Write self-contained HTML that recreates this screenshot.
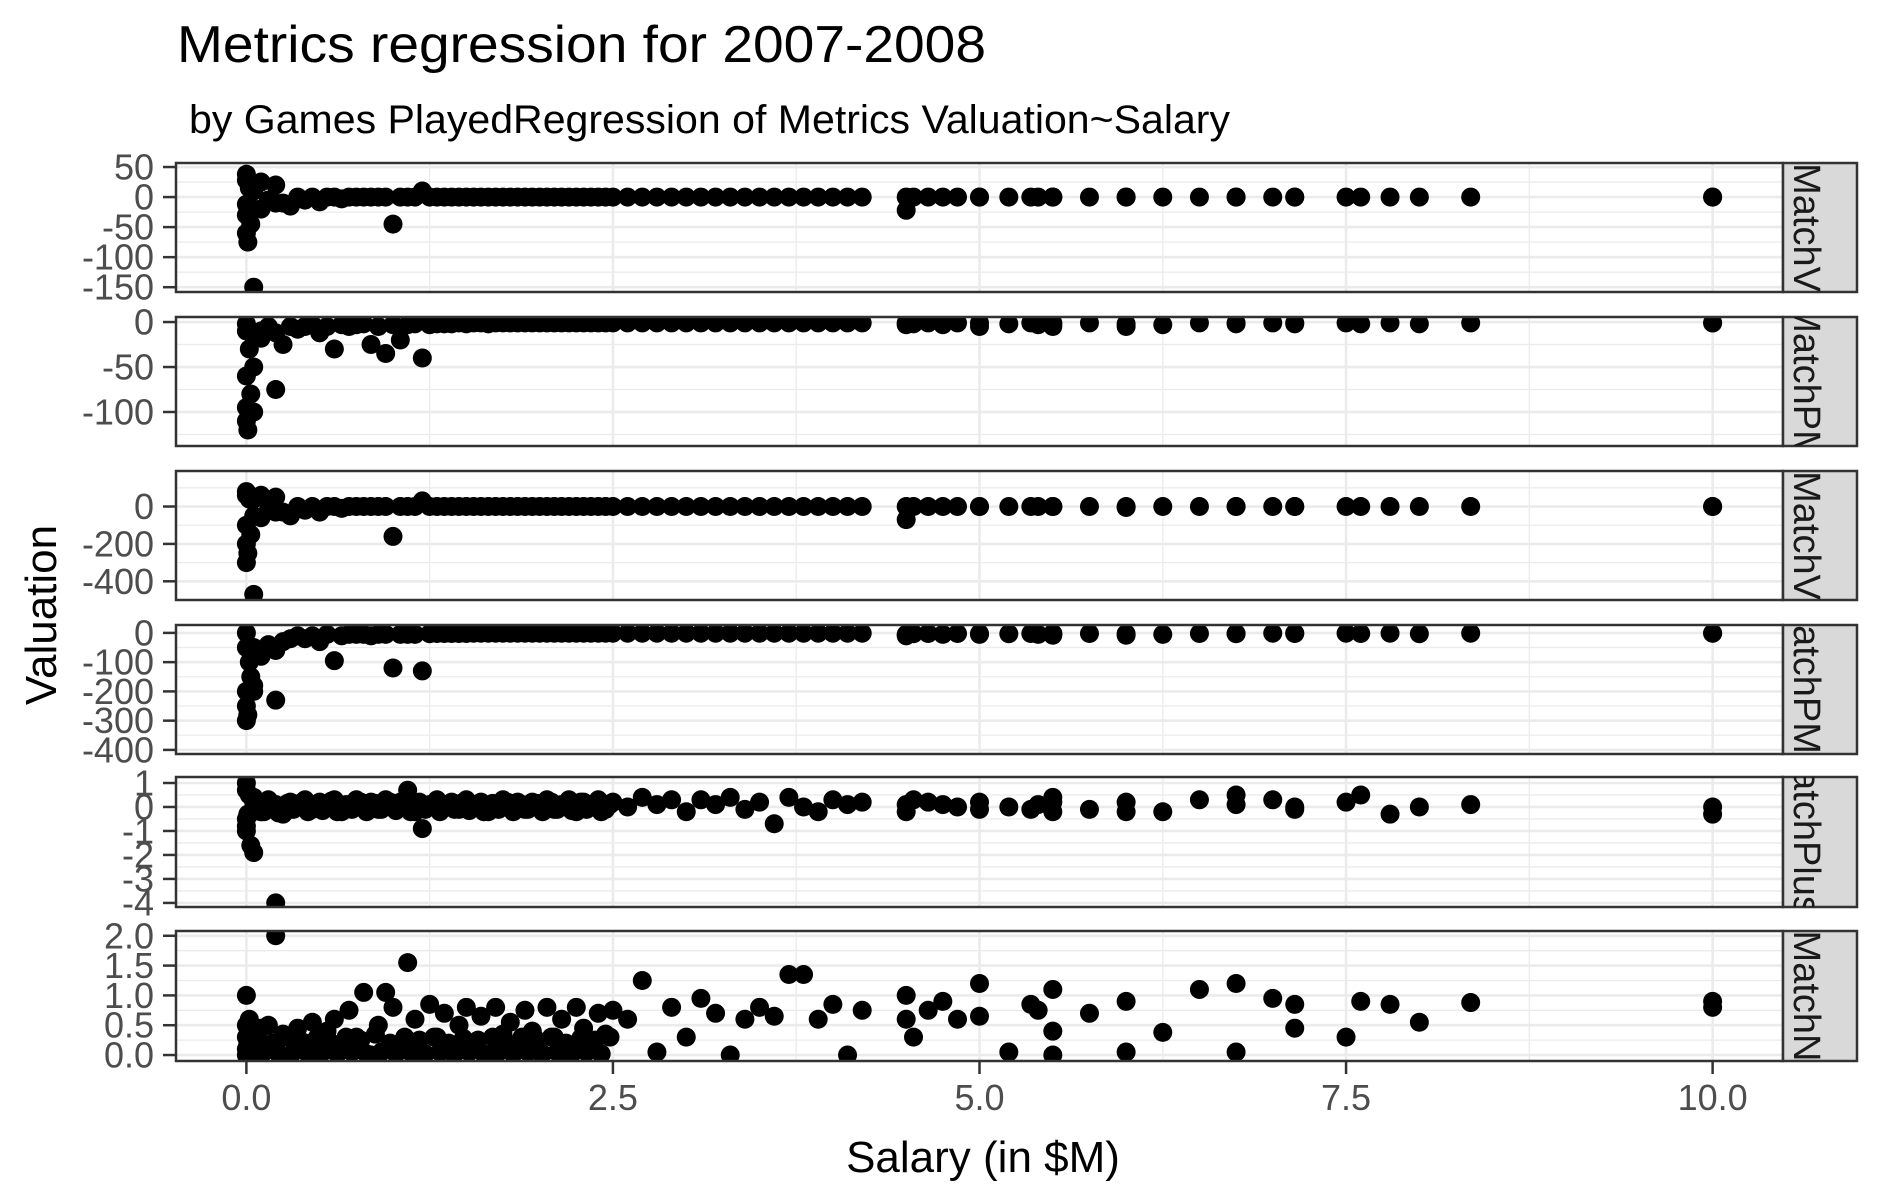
<!DOCTYPE html>
<html><head><meta charset="utf-8"><style>
html,body{margin:0;padding:0;background:#fff}
svg{display:block;font-family:"Liberation Sans",sans-serif}
</style></head><body>
<svg id="chart" width="1881" height="1200" viewBox="0 0 1881 1200">
<text x="177" y="62" font-size="52" textLength="809" lengthAdjust="spacingAndGlyphs">Metrics regression for 2007-2008</text>
<text x="189" y="133" font-size="40" textLength="1041" lengthAdjust="spacingAndGlyphs">by Games PlayedRegression of Metrics Valuation~Salary</text>
<text transform="translate(56,615) rotate(-90)" text-anchor="middle" font-size="44">Valuation</text>
<text x="983" y="1172" text-anchor="middle" font-size="44">Salary (in $M)</text>
<g id="panels"></g>
</svg>
<script>
const salaryNearZero=[0,0,0,0,0,0.01,0.02,0.03,0.05,0.05,0.1,0.2];
const salaryDense=[0.05,0.1,0.15,0.2,0.25,0.3,0.35,0.4,0.45,0.5,0.55,0.6,0.65,0.7,0.75,0.8,0.85,0.9,0.95,1.0,1.05,1.1,1.15,1.2,1.25,1.3,1.35,1.4,1.45,1.5,1.55,1.6,1.65,1.7,1.75,1.8,1.85,1.9,1.95,2.0,2.05,2.1,2.15,2.2,2.25,2.3,2.35,2.4,2.45,2.5,2.6,2.7,2.8,2.9,3.0,3.1,3.2,3.3,3.4,3.5,3.6,3.7,3.8,3.9,4.0,4.1,4.2];
const salarySparse=[4.5,4.5,4.55,4.65,4.75,4.85,5.0,5.0,5.2,5.35,5.4,5.5,5.5,5.5,5.75,6.0,6.0,6.25,6.5,6.75,6.75,7.0,7.15,7.15,7.5,7.6,7.8,8.0,8.35,10.0,10.0];
const salaryBlob=[0.02,0.08,0.12,0.18,0.22,0.28,0.32,0.38,0.42,0.48,0.52,0.58,0.62,0.68,0.72,0.78,0.82,0.88,0.92,0.98,1.02,1.08,1.12,1.18,1.22,1.28,1.32,1.38,1.42,1.48,1.52,1.58,1.62,1.68,1.72,1.78,1.82,1.88,1.92,1.98,2.02,2.08,2.12,2.18,2.22,2.28,2.32,2.38,2.42,2.48];

const p1Near=[38,28,-12,-30,-60,-75,15,-45,-150,-20,25,-10];
const p1Dense=[10,-20,-5,20,-10,-15,0,-5,0,-8,0,0,-3,0,0,0,0,0,0,-45,0,0,0,10,0,0,0,0,0,0,0,0,0,0,0,0,0,0,0,0,0,0,0,0,0,0,0,0,0,0,0,0,0,0,0,0,0,0,0,0,0,0,0,0,0,0,0];
const p1Sparse=[0,-22,0,0,0,0,0,0,0,0,0,0,0,0,0,0,0,0,0,0,0,0,0,0,0,0,0,0,0,0,0];
const p1Blob=[];

const p2Near=[-2,-10,-60,-95,-110,-120,-30,-80,-100,-50,-18,-75];
const p2Dense=[-15,-10,-5,-12,-25,-5,-8,-5,-3,-12,-5,-30,-3,-5,-3,-2,-25,-5,-35,-3,-20,-3,-2,-40,-3,-2,-2,-2,-1,-2,-1,-1,-2,-1,-1,-1,-1,-1,-1,-1,-1,-1,-1,-1,-1,-1,-1,-1,-1,-1,-1,-1,-1,-1,-1,-1,-1,-1,-1,-1,-1,-1,-1,-1,-1,-1,-1];
const p2Sparse=[-3,-1,-2,-1,-3,-1,-5,-1,-2,-1,-3,-1,-5,-2,-1,-2,-5,-3,-1,-2,-1,-1,-2,-1,-1,-2,-1,-2,-1,-1,-1];
const p2Blob=[];

const p3Near=[80,60,-100,-200,-300,-250,40,-150,-470,-50,60,-30];
const p3Dense=[40,-60,-20,50,-30,-50,0,-20,0,-30,0,0,-10,0,0,0,0,0,0,-160,0,0,0,30,0,0,0,0,0,0,0,0,0,0,0,0,0,0,0,0,0,0,0,0,0,0,0,0,0,0,0,0,0,0,0,0,0,0,0,0,0,0,0,0,0,0,0];
const p3Sparse=[0,-70,0,0,0,0,0,0,0,0,0,0,0,0,0,0,-5,0,0,0,0,0,0,0,0,0,0,0,0,0,0];
const p3Blob=[];

const p4Near=[0,-50,-200,-250,-300,-280,-100,-150,-180,-200,-60,-230];
const p4Dense=[-50,-80,-40,-60,-30,-20,-10,-20,-10,-30,-5,-95,-10,-5,-5,-5,-10,-5,-5,-120,-5,-5,-5,-130,-3,-2,-2,-2,-2,-2,-1,-1,-1,-1,-1,-1,-1,-1,-1,-1,-1,-1,-1,-1,-1,-1,-1,-1,-1,-1,-1,-1,-1,-1,-1,-1,-1,-1,-1,-1,-1,-1,-1,-1,-1,-1,-1];
const p4Sparse=[-5,-10,-3,-2,-5,-2,-5,-2,-3,-2,-5,-2,-8,-3,-2,-3,-8,-5,-2,-3,-2,-1,-2,-1,-1,-2,-1,-3,-1,-1,-1];
const p4Blob=[];

const p5Near=[1,0.7,-0.5,-1,-0.8,-0.3,0.5,-1.6,-1.9,0.2,-0.2,-4];
const p5Dense=[0.4,-0.2,0.3,0.1,-0.3,0.2,0,0.3,-0.1,0.2,0,0.3,-0.2,0.1,0.3,0,0.2,-0.1,0.3,0,0.2,0.7,-0.2,-0.9,0.1,0.3,0,0.2,-0.1,0.3,0,0.2,-0.2,0.1,0.3,0,0.2,-0.1,0.2,0,0.3,-0.1,0.1,0.3,-0.2,0.2,0,0.3,-0.1,0.2,0,0.4,0.1,0.3,-0.2,0.3,0.1,0.4,-0.1,0.2,-0.7,0.4,0,-0.2,0.3,0.1,0.2];
const p5Sparse=[0.1,-0.2,0.3,0.2,0.1,0.0,0.2,-0.1,0.0,-0.1,0.1,0.4,-0.2,0.2,-0.1,0.2,-0.2,-0.2,0.3,0.5,0.1,0.3,0.0,-0.1,0.2,0.5,-0.3,0.0,0.1,0.0,-0.3];
const p5Blob=[-0.3,0.2,-0.2,0.1,-0.25,0.15,-0.1,0.2,-0.2,0.1,-0.15,0.25,-0.2,0.1,-0.1,0.2,-0.2,0.15,-0.1,0.2,-0.15,0.1,-0.2,0.2,-0.1,0.15,-0.2,0.1,-0.1,0.2,-0.15,0.1,-0.2,0.15,-0.1,0.2,-0.2,0.1,-0.1,0.15,-0.2,0.2,-0.1,0.1,-0.15,0.2,-0.1,0.15,-0.2,0.1];

const p6Near=[1.0,0.5,0.3,0.1,0,0.2,0.6,0.4,0.05,0.3,0.45,2.0];
const p6Dense=[0.3,0.05,0.5,0.15,0.35,0,0.45,0.2,0.55,0.05,0.4,0.6,0.1,0.75,0.3,1.05,0.0,0.5,1.05,0.8,0.2,1.55,0.6,0.0,0.85,0.3,0.7,0.05,0.5,0.8,0.2,0.65,0.0,0.8,0.35,0.55,0.1,0.75,0.4,0.05,0.8,0.3,0.6,0.0,0.8,0.45,0.1,0.7,0.35,0.75,0.6,1.25,0.05,0.8,0.3,0.95,0.7,0.0,0.6,0.8,0.65,1.35,1.35,0.6,0.85,0.0,0.75];
const p6Sparse=[0.6,1.0,0.3,0.75,0.9,0.6,1.2,0.65,0.05,0.85,0.75,1.1,0.4,0.0,0.7,0.9,0.05,0.38,1.1,1.2,0.05,0.95,0.85,0.45,0.3,0.9,0.85,0.55,0.88,0.9,0.8];
const p6Blob=[0.02,0.25,0.05,0.2,0.02,0.3,0.05,0.22,0.02,0.28,0.05,0.2,0.02,0.3,0.05,0.25,0.02,0.35,0.05,0.2,0.02,0.3,0.05,0.25,0.02,0.3,0.05,0.2,0.02,0.28,0.05,0.25,0.02,0.3,0.05,0.2,0.02,0.3,0.05,0.25,0.02,0.3,0.05,0.2,0.02,0.28,0.05,0.25,0.02,0.3];

const xTicks=[0,2.5,5,7.5,10];
const xTickLabels=["0.0","2.5","5.0","7.5","10.0"];
const stripLabels=["MatchV","MatchPM","MatchV","atchPM","atchPlus","MatchN"];
const p1Ticks=[50,0,-50,-100,-150];
const p2Ticks=[0,-50,-100];
const p3Ticks=[0,-200,-400];
const p4Ticks=[0,-100,-200,-300,-400];
const p5Ticks=[1,0,-1,-2,-3,-4];
const p6Ticks=[2,1.5,1,0.5,0];
const p6TickLabels=["2.0","1.5","1.0","0.5","0.0"];

const NS="http://www.w3.org/2000/svg";
const L=176,R=1783,SR=1857;
const xMin=-0.48,xMax=10.48;
function xs(v){return L+(v-xMin)/(xMax-xMin)*(R-L);}
const panels=[
 {top:163,bot:292,dom:[-158,56.7],ticks:p1Ticks,labels:null,near:p1Near,dense:p1Dense,sparse:p1Sparse,blob:p1Blob},
 {top:317,bot:446,dom:[-137.8,5.6],ticks:p2Ticks,labels:null,near:p2Near,dense:p2Dense,sparse:p2Sparse,blob:p2Blob},
 {top:471,bot:600,dom:[-500,190],ticks:p3Ticks,labels:null,near:p3Near,dense:p3Dense,sparse:p3Sparse,blob:p3Blob},
 {top:625,bot:754,dom:[-414,27],ticks:p4Ticks,labels:null,near:p4Near,dense:p4Dense,sparse:p4Sparse,blob:p4Blob},
 {top:777,bot:907,dom:[-4.17,1.25],ticks:p5Ticks,labels:null,near:p5Near,dense:p5Dense,sparse:p5Sparse,blob:p5Blob},
 {top:931,bot:1061,dom:[-0.1,2.08],ticks:p6Ticks,labels:p6TickLabels,near:p6Near,dense:p6Dense,sparse:p6Sparse,blob:p6Blob}
];
const root=document.getElementById('panels');
function mk(tag,attrs,parent){const e=document.createElementNS(NS,tag);for(const k in attrs)e.setAttribute(k,attrs[k]);(parent||root).appendChild(e);return e;}
const defs=mk('defs',{});
panels.forEach((p,i)=>{
  const ys=v=>p.bot-(v-p.dom[0])/(p.dom[1]-p.dom[0])*(p.bot-p.top);
  const g=mk('g',{});
  
  
  mk('rect',{x:L,y:p.top,width:R-L,height:p.bot-p.top,fill:'#fff'},g);
  const cp=mk('clipPath',{id:'cp'+i},defs);
  mk('rect',{x:L,y:p.top,width:R-L,height:p.bot-p.top},cp);
  const grid=mk('g',{'clip-path':'url(#cp'+i+')'},g);
  const step=p.ticks[0]-p.ticks[1];
  for(let k=-1;k<p.ticks.length;k++){
    const v=p.ticks[0]-step/2-k*step;
    const gl=mk('line',{x1:L,x2:R,y1:ys(v),y2:ys(v),stroke:'#ebebeb','stroke-width':1.3},grid);
    
    
  }
  for(let k=0;k<xTicks.length;k++){
    const v=xTicks[k]+1.25;
    const gl=mk('line',{x1:xs(v),x2:xs(v),y1:p.top,y2:p.bot,stroke:'#ebebeb','stroke-width':1.3},grid);
    
    
  }
  p.ticks.forEach(t=>{
    const gl=mk('line',{x1:L,x2:R,y1:ys(t),y2:ys(t),stroke:'#ebebeb','stroke-width':2.6},grid);
    
    
  });
  xTicks.forEach(t=>{
    const gl=mk('line',{x1:xs(t),x2:xs(t),y1:p.top,y2:p.bot,stroke:'#ebebeb','stroke-width':2.6},grid);
    
    
  });
  const pts=mk('g',{'clip-path':'url(#cp'+i+')'},g);
  const sets=[[salaryNearZero,p.near],[salaryDense,p.dense],[salarySparse,p.sparse],[salaryBlob,p.blob]];
  sets.forEach(([sx,sv])=>{
    sv.forEach((val,j)=>{
      const c=mk('circle',{cx:xs(sx[j]),cy:ys(val),r:9.5,fill:'#000'},pts);
      
      
    });
  });
  const br=mk('rect',{x:L,y:p.top,width:R-L,height:p.bot-p.top,fill:'none',stroke:'#333','stroke-width':2.5},g);
  
  
  p.ticks.forEach((t,k)=>{
    mk('line',{x1:L-13,x2:L,y1:ys(t),y2:ys(t),stroke:'#333','stroke-width':2.5},g);
    const tl=mk('text',{x:L-22,y:ys(t)+12.5,'text-anchor':'end','font-size':36,fill:'#4d4d4d'},g);
    tl.textContent=p.labels?p.labels[k]:String(t);
    
    
  });
  const scp=mk('clipPath',{id:'scp'+i},defs);
  mk('rect',{x:R,y:p.top,width:SR-R,height:p.bot-p.top},scp);
  const sr=mk('rect',{x:R,y:p.top,width:SR-R,height:p.bot-p.top,fill:'#d9d9d9',stroke:'#333','stroke-width':2.5},g);
  
  
  const cy=(p.top+p.bot)/2;
  const sg=mk('g',{'clip-path':'url(#scp'+i+')'},g);
  const st=mk('text',{transform:'translate(1806,'+cy+') rotate(90)','text-anchor':'middle','dominant-baseline':'central','font-size':38,fill:'#1a1a1a'},sg);
  st.textContent=stripLabels[i];
  
  
});
const last=panels[5];
xTicks.forEach((t,k)=>{
  mk('line',{x1:xs(t),x2:xs(t),y1:last.bot,y2:last.bot+13,stroke:'#333','stroke-width':2.5});
  const tl=mk('text',{x:xs(t),y:1110,'text-anchor':'middle','font-size':36,fill:'#4d4d4d'});
  tl.textContent=xTickLabels[k];
  
  
});
</script>
</body></html>
